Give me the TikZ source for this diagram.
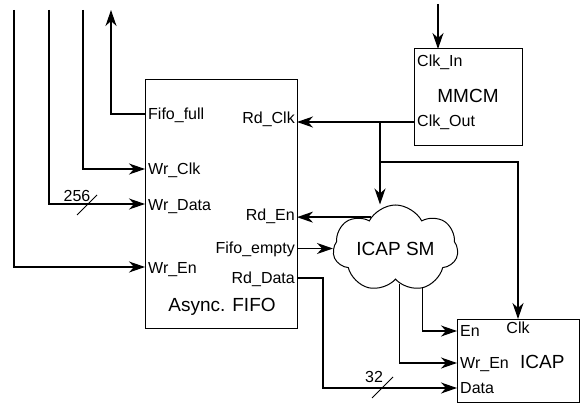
\documentclass[tikz,border=0pt]{standalone}
\usepackage{fontspec}
\setmainfont{Liberation Sans}
\usetikzlibrary{shapes.symbols,arrows.meta}
\begin{document}
\begin{tikzpicture}[x=1pt,y=-1pt,
  wire/.style={line width=1.3pt},
  arr/.style={wire,-{Stealth[length=16pt,width=11pt,inset=5pt]}},
  box/.style={draw,line width=1pt,inner sep=0,outer sep=0},
  sml/.style={font=\fontsize{16}{19}\selectfont,inner sep=0},
  big/.style={font=\fontsize{19}{22}\selectfont,inner sep=0}]
\useasboundingbox (0,0) rectangle (585,403);
% blocks
\node[box,minimum width=152pt,minimum height=248pt] (fifo) at (221,204) {};
\node[box,minimum width=108pt,minimum height=97pt] (mmcm) at (468,97.5) {};
\node[box,minimum width=122pt,minimum height=83pt] (icap) at (518,360.5) {};
\node[cloud,draw,line width=1pt,cloud puffs=7,cloud puff arc=125,cloud ignores aspect,
      minimum width=125pt,minimum height=87pt,inner sep=0,big,shape border rotate=10] (sm) at (395.5,248.5) {ICAP SM};
% labels
\node[sml,anchor=base west] (lff) at (148,120) {Fifo\_full};
\node[sml,anchor=base east] (lrc) at (295,124) {Rd\_Clk};
\node[sml,anchor=base west] (lwc) at (148,175) {Wr\_Clk};
\node[sml,anchor=base west] (lwd) at (148,211) {Wr\_Data};
\node[sml,anchor=base east] (lre) at (295,220) {Rd\_En};
\node[sml,anchor=base east] (lfe) at (295,253) {Fifo\_empty};
\node[sml,anchor=base west] (lwe) at (148,273) {Wr\_En};
\node[sml,anchor=base east] (lrd) at (295,283) {Rd\_Data};
\node[big,anchor=base] (laf) at (222,311) {Async. FIFO};
\node[sml,anchor=base west] (lci) at (417,67) {Clk\_In};
\node[big,anchor=base] (lmm) at (468,103) {MMCM};
\node[sml,anchor=base west] (lco) at (417,127) {Clk\_Out};
\node[sml,anchor=base west] (lien) at (460,336) {En};
\node[sml,anchor=base] (lick) at (518,333) {Clk};
\node[sml,anchor=base west] (liwe) at (460,368) {Wr\_En};
\node[big,anchor=base west] (lic) at (520,368) {ICAP};
\node[sml,anchor=base west] (lida) at (460,393) {Data};
\node[sml,anchor=base] (l256) at (77,201) {256};
\node[sml,anchor=base] (l32) at (374,382) {32};
% free ends
\coordinate (a1) at (14,10);
\coordinate (a2) at (49,10);
\coordinate (a3) at (83,10);
\coordinate (a4) at (111,10);
\coordinate (clkin) at (438,4);
\coordinate (j) at (380,122);
\coordinate (j2) at (380,162);
% connectors
\draw[arr] (a1) |- (fifo.west |- 0,267);
\draw[arr] (a2) |- (fifo.west |- 0,204);
\draw[arr] (a3) |- (fifo.west |- 0,169);
\draw[arr] (fifo.west |- 0,114) -| (a4);
\draw[arr] (clkin) -- (clkin |- mmcm.north);
\draw[arr] (mmcm.west |- 0,122) -- (fifo.east |- 0,122);
\draw[arr] (j) -- (j |- sm.north);
\draw[arr] (j2) -| (icap.north);
\draw[arr] (sm.128) -- (sm.128 -| fifo.east);
\draw[arr] (fifo.east |- sm.west) -- (sm.west);
\draw[arr] (fifo.east |- 0,278) -| (323,330) |- (icap.west |- 0,388);
\draw[arr] (sm.-56) |- (icap.west |- 0,331);
\draw[arr] (sm.-83) |- (icap.west |- 0,363);
% bus slashes
\draw[wire,line width=1pt] (77,215) -- (97,195);
\draw[wire,line width=1pt] (372,398) -- (393,377);
\end{tikzpicture}
\end{document}
